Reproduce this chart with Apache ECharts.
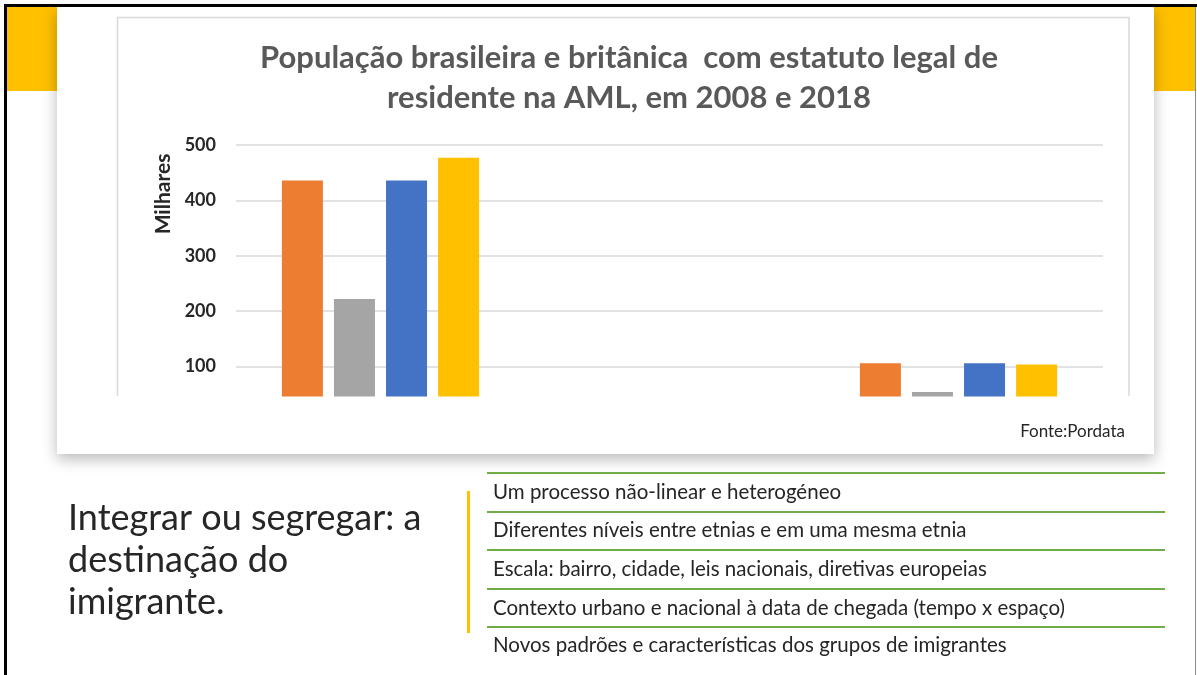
<!DOCTYPE html>
<html>
<head>
<meta charset="utf-8">
<script src="https://cdn.jsdelivr.net/npm/echarts@6/dist/echarts.min.js"></script>
<style>
  html, body { margin: 0; padding: 0; background: #ffffff; }
  #chart { width: 1197px; height: 675px; }
</style>
</head>
<body>
<div id="chart"></div>
<script>
// Resident population (thousands) with legal status in the Lisbon Metropolitan Area
const categories = ['Brasileira', '', 'Britânica'];
const seriesNames = ['Série 1', 'Série 2', 'Série 3', 'Série 4'];
const seriesValues = [
  [436, null, 106],
  [222, null, 54],
  [436, null, 106],
  [477, null, 104]
];
const seriesColors = ['#ED7D31', '#A5A5A5', '#4472C4', '#FFC000'];
const yTicks = [100, 200, 300, 400, 500];

const titleLines = [
  'População brasileira e britânica  com estatuto legal de',
  'residente na AML, em 2008 e 2018'
];
const axisTitle = 'Milhares';
const sourceNote = 'Fonte:Pordata';
const headingLines = ['Integrar ou segregar: a', 'destinação do', 'imigrante.'];
const bulletItems = [
  'Um processo não-linear e heterogéneo',
  'Diferentes níveis entre etnias e em uma mesma etnia',
  'Escala: bairro, cidade, leis nacionais, diretivas europeias',
  'Contexto urbano e nacional à data de chegada (tempo x espaço)',
  'Novos padrões e características dos grupos de imigrantes'
];

const FONT = 'Lato, "Open Sans", sans-serif';

const chart = echarts.init(document.getElementById('chart'), null, { renderer: 'canvas' });

// Slide decorations, chart card and text blocks
const graphics = [];
// slide background and corner accents
graphics.push({ type: 'rect', z: 0, shape: { x: 0, y: 0, width: 1197, height: 675 }, style: { fill: '#ffffff' } });
graphics.push({ type: 'rect', z: 0, shape: { x: 7, y: 7, width: 50, height: 84 }, style: { fill: '#FFC000' } });
graphics.push({ type: 'rect', z: 0, shape: { x: 1153, y: 7, width: 42, height: 84 }, style: { fill: '#FFC000' } });
// card with shadow
graphics.push({
  type: 'rect', z: 1,
  shape: { x: 57, y: 7, width: 1097, height: 447 },
  style: { fill: '#ffffff', shadowBlur: 14, shadowOffsetY: 5, shadowColor: 'rgba(0,0,0,0.28)' }
});
// chart area outline (open at the bottom)
graphics.push({
  type: 'polyline', z: 1,
  shape: { points: [[117.5, 396], [117.5, 17.5], [1129, 17.5], [1129, 396]] },
  style: { stroke: '#d9d9d9', lineWidth: 1.5, fill: null }
});
// lower edge of plot area
graphics.push({ type: 'rect', z: 20, shape: { x: 119, y: 396.5, width: 1009, height: 30 }, style: { fill: '#ffffff' } });
// slide frame
graphics.push({
  type: 'line', z: 30, shape: { x1: 5.5, y1: 4, x2: 5.5, y2: 675 }, style: { stroke: '#000000', lineWidth: 3 }
});
graphics.push({
  type: 'line', z: 30, shape: { x1: 4, y1: 5.5, x2: 1197, y2: 5.5 }, style: { stroke: '#000000', lineWidth: 3 }
});
graphics.push({
  type: 'line', z: 30, shape: { x1: 1195.5, y1: 7, x2: 1195.5, y2: 675 }, style: { stroke: '#8c8c8c', lineWidth: 1 }
});
// axis title
graphics.push({
  type: 'text', z: 25, x: 163, y: 194, rotation: Math.PI / 2,
  style: { text: axisTitle, font: 'bold 21px ' + FONT, fill: '#262626', align: 'center', verticalAlign: 'middle' }
});
// source note
graphics.push({
  type: 'text', z: 25, x: 1125, y: 432,
  style: { text: sourceNote, font: '17px ' + FONT, fill: '#262626', align: 'right', verticalAlign: 'middle' }
});
// heading block
headingLines.forEach((t, i) => {
  graphics.push({
    type: 'text', z: 25, x: 68, y: 518 + i * 42,
    style: { text: t, font: '36px ' + FONT, fill: '#262626', align: 'left', verticalAlign: 'middle' }
  });
});
// accent bar
graphics.push({
  type: 'line', z: 25, shape: { x1: 468.5, y1: 491, x2: 468.5, y2: 633 }, style: { stroke: '#FFC000', lineWidth: 3 }
});
// bullet rows with separators
const rowLines = [473, 512, 550, 589, 627];
rowLines.forEach(y => {
  graphics.push({
    type: 'line', z: 25, shape: { x1: 487, y1: y, x2: 1165, y2: y }, style: { stroke: '#70AD47', lineWidth: 2 }
  });
});
const rowCenters = [492, 530, 569, 608, 645];
bulletItems.forEach((t, i) => {
  graphics.push({
    type: 'text', z: 25, x: 493, y: rowCenters[i],
    style: { text: t, font: '20.5px ' + FONT, fill: '#262626', align: 'left', verticalAlign: 'middle' }
  });
});

const option = {
  animation: false,
  backgroundColor: 'transparent',
  title: {
    text: titleLines.join('\n'),
    left: 624,
    top: 33,
    textAlign: 'center',
    textStyle: { fontFamily: FONT, fontWeight: 'bold', fontSize: 31, color: '#595959', lineHeight: 40 }
  },
  grid: { left: 236, right: 94, top: 145, bottom: 253, containLabel: false },
  xAxis: {
    type: 'category',
    data: categories,
    axisLine: { show: false },
    axisTick: { show: false },
    axisLabel: { show: false },
    splitLine: { show: false }
  },
  yAxis: {
    type: 'value',
    z: 3,
    min: 0,
    max: 500,
    interval: 100,
    axisLine: { show: false },
    axisTick: { show: false },
    axisLabel: {
      margin: 20,
      fontFamily: FONT, fontWeight: 'bold', fontSize: 18, color: '#262626',
      formatter: v => (yTicks.indexOf(v) >= 0 ? String(v) : '')
    },
    splitLine: { lineStyle: { color: '#d9d9d9', width: 1.5 } }
  },
  graphic: { elements: graphics },
  series: seriesNames.map((name, i) => ({
    name: name,
    type: 'bar',
    data: seriesValues[i],
    barWidth: 41,
    barGap: '27%',
    itemStyle: { color: seriesColors[i] },
    z: 5
  }))
};

chart.setOption(option);
</script>
</body>
</html>
